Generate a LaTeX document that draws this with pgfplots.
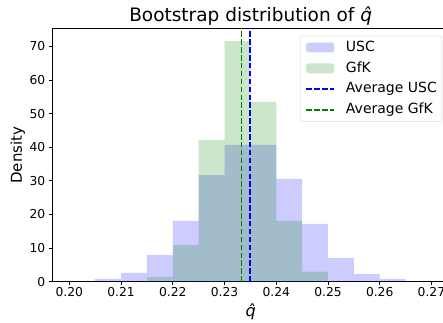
\documentclass[border=0pt]{standalone}
\usepackage{pgfplots}
\pgfplotsset{compat=1.18}
\usepackage{fontspec}
\setmainfont{DejaVu Sans}
\newcommand{\qhat}{{\itshape q\char"0302}}
\definecolor{mplblue}{HTML}{0000FF}
\definecolor{mplgreen}{HTML}{008000}
\begin{document}
\begin{tikzpicture}
\begin{axis}[
  at={(52.3pt,40.3pt)}, anchor=south west,
  scale only axis,
  width=396.7pt, height=253.3pt,
  xmin=0.1967, xmax=0.2734,
  ymin=0, ymax=75.36,
  xtick={0.20,0.21,0.22,0.23,0.24,0.25,0.26,0.27},
  xticklabels={0.20,0.21,0.22,0.23,0.24,0.25,0.26,0.27},
  ytick={0,10,20,30,40,50,60,70},
  /pgf/number format/assume math mode=true,
  tick label style={font=\fontsize{12.3}{14}\selectfont},
  xticklabel style={yshift=1pt},
  tick align=outside,
  major tick length=3.5pt,
  xtick pos=left, ytick pos=left,
  axis line style={line width=0.9pt},
  tick style={line width=0.9pt, black},
  title={Bootstrap distribution of \qhat},
  every axis title/.style={at={(axis description cs:0.5,1)}, anchor=base, yshift=6.5pt, font=\fontsize{18.5}{21}\selectfont},
  xlabel={\qhat},
  ylabel={Density},
  every axis x label/.style={at={(axis description cs:0.5,0)}, anchor=center, yshift=-30pt, font=\fontsize{16}{19}\selectfont},
  every axis y label/.style={at={(axis description cs:0,0.5)}, rotate=90, anchor=center, yshift=34.6pt, font=\fontsize{15}{18}\selectfont},
  legend cell align=left,
  legend style={at={(1,1)}, anchor=north east, xshift=-7pt, yshift=-7.3pt,
    draw=black!15, rounded corners=2.5pt, fill=white, fill opacity=0.8, text opacity=1,
    font=\fontsize{14}{17}\selectfont, inner xsep=5pt, inner ysep=5pt,
    row sep=7.5pt,
    nodes={inner sep=0pt, text height=10.3pt, text depth=3pt},
    /tikz/every odd column/.style={column sep=11pt}},
]
\addplot[ybar interval, fill=mplblue, fill opacity=0.2, draw=none,
  legend image code/.code={\fill[mplblue, fill opacity=0.2] (0pt,-4.9pt) rectangle (28pt,4.9pt);}]
  coordinates {(0.205,0.8) (0.210,2.6) (0.215,7.9) (0.220,18.1) (0.225,31.7) (0.230,40.7) (0.235,40.7) (0.240,30.6) (0.245,17.2) (0.250,7.1) (0.255,2.3) (0.260,0.8) (0.265,0)};
\addlegendentry{USC}
\addplot[ybar interval, fill=mplgreen, fill opacity=0.2, draw=none,
  legend image code/.code={\fill[mplgreen, fill opacity=0.2] (0pt,-4.9pt) rectangle (28pt,4.9pt);}]
  coordinates {(0.215,1.4) (0.220,10.9) (0.225,42.2) (0.230,71.6) (0.235,53.5) (0.240,18.1) (0.245,3.0) (0.250,0)};
\addlegendentry{GfK}
\addplot[mplblue, line width=1.5pt, dash pattern=on 5.5pt off 2.4pt,
  legend image code/.code={\draw[mplblue, line width=1.5pt, dash pattern=on 5.5pt off 2.4pt] (0pt,0pt) -- (28pt,0pt);}]
  coordinates {(0.2349,0) (0.2349,75.36)};
\addlegendentry{Average USC}
\addplot[mplgreen, line width=1.5pt, dash pattern=on 5.5pt off 2.4pt,
  legend image code/.code={\draw[mplgreen, line width=1.5pt, dash pattern=on 5.5pt off 2.4pt] (0pt,0pt) -- (28pt,0pt);}]
  coordinates {(0.2333,0) (0.2333,75.36)};
\addlegendentry{Average GfK}
\end{axis}
\pgfresetboundingbox
\path[use as bounding box] (0pt,0pt) rectangle (443pt,322pt);
\end{tikzpicture}
\end{document}
